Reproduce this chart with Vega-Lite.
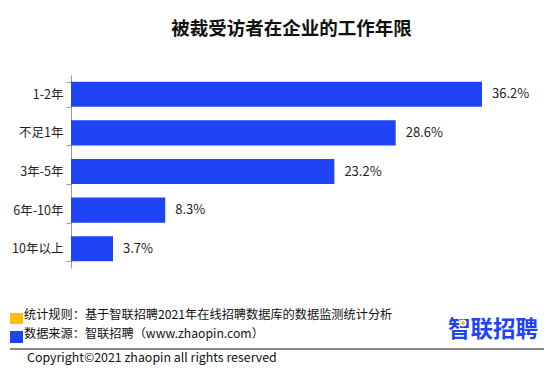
{
  "$schema": "https://vega.github.io/schema/vega-lite/v6.json",
  "autosize": {"type": "none"},
  "width": 470,
  "height": 193,
  "padding": {"left": 71, "top": 75, "right": 13, "bottom": 108},
  "background": "white",
  "config": {"view": {"stroke": null}, "font": "Noto Sans CJK SC"},
  "title": {
    "text": "被裁受访者在企业的工作年限",
    "fontSize": 18.5,
    "fontWeight": "bold",
    "color": "#111",
    "anchor": "middle",
    "dx": -14.5,
    "offset": 31,
    "font": "Noto Sans CJK SC"
  },
  "data": {
    "values": [
      {"category": "1-2年", "value": 36.2, "label": "36.2%"},
      {"category": "不足1年", "value": 28.6, "label": "28.6%"},
      {"category": "3年-5年", "value": 23.2, "label": "23.2%"},
      {"category": "6年-10年", "value": 8.3, "label": "8.3%"},
      {"category": "10年以上", "value": 3.7, "label": "3.7%"}
    ]
  },
  "encoding": {
    "y": {
      "field": "category",
      "type": "nominal",
      "sort": null,
      "scale": {"paddingInner": 0.35, "paddingOuter": 0.175},
      "axis": {
        "title": null,
        "tickBand": "extent",
        "domainColor": "#999",
        "tickColor": "#999",
        "tickSize": 5,
        "labelFontSize": 12.5,
        "labelColor": "#222",
        "labelPadding": 3,
        "labelFont": "Noto Sans CJK SC"
      }
    },
    "x": {
      "field": "value",
      "type": "quantitative",
      "scale": {"domain": [0, 41.4], "nice": false},
      "axis": null
    }
  },
  "layer": [
    {"mark": {"type": "bar", "color": "#1e44f5"}},
    {
      "mark": {"type": "text", "align": "left", "dx": 10, "fontSize": 13, "color": "#222", "font": "Noto Sans CJK SC"},
      "encoding": {"text": {"field": "label"}}
    },
    {
      "data": {"values": [{"text": "统计规则：基于智联招聘2021年在线招聘数据库的数据监测统计分析"}]},
      "mark": {"type": "text", "align": "left", "baseline": "middle", "fontSize": 12.2, "color": "#111", "font": "Noto Sans CJK SC"},
      "encoding": {"x": {"value": -47}, "y": {"value": 240}, "text": {"field": "text"}}
    },
    {
      "data": {"values": [{"text": "数据来源：智联招聘（www.zhaopin.com）"}]},
      "mark": {"type": "text", "align": "left", "baseline": "middle", "fontSize": 12.2, "color": "#111", "font": "Noto Sans CJK SC"},
      "encoding": {"x": {"value": -47}, "y": {"value": 259}, "text": {"field": "text"}}
    },
    {
      "data": {"values": [{"text": "Copyright©2021 zhaopin all rights reserved"}]},
      "mark": {"type": "text", "align": "left", "baseline": "middle", "fontSize": 12.4, "color": "#111", "font": "Noto Sans CJK SC"},
      "encoding": {"x": {"value": -44}, "y": {"value": 283}, "text": {"field": "text"}}
    },
    {
      "data": {"values": [{"text": "智联招聘"}]},
      "mark": {"type": "text", "align": "left", "baseline": "middle", "fontSize": 22.5, "fontWeight": "bold", "color": "#1e44f5", "font": "Noto Sans CJK SC"},
      "encoding": {"x": {"value": 377}, "y": {"value": 255}, "text": {"field": "text"}}
    },
    {
      "data": {"values": [{"c": "dot"}]},
      "mark": {"type": "circle", "color": "#ffc000", "opacity": 1, "size": 30, "stroke": "white", "strokeWidth": 1.5},
      "encoding": {"x": {"value": 392}, "y": {"value": 248}}
    },
    {
      "data": {"values": [{"c": "yellow"}]},
      "mark": {"type": "rect", "color": "#ffc000"},
      "encoding": {"x": {"value": -61}, "x2": {"value": -48}, "y": {"value": 238}, "y2": {"value": 249}}
    },
    {
      "data": {"values": [{"c": "blue"}]},
      "mark": {"type": "rect", "color": "#1e44f5"},
      "encoding": {"x": {"value": -61}, "x2": {"value": -48}, "y": {"value": 256}, "y2": {"value": 268}}
    },
    {
      "data": {"values": [{"c": "line"}]},
      "mark": {"type": "rule", "color": "#111", "strokeWidth": 1},
      "encoding": {"x": {"value": -61}, "x2": {"value": 473}, "y": {"value": 274}}
    }
  ]
}
